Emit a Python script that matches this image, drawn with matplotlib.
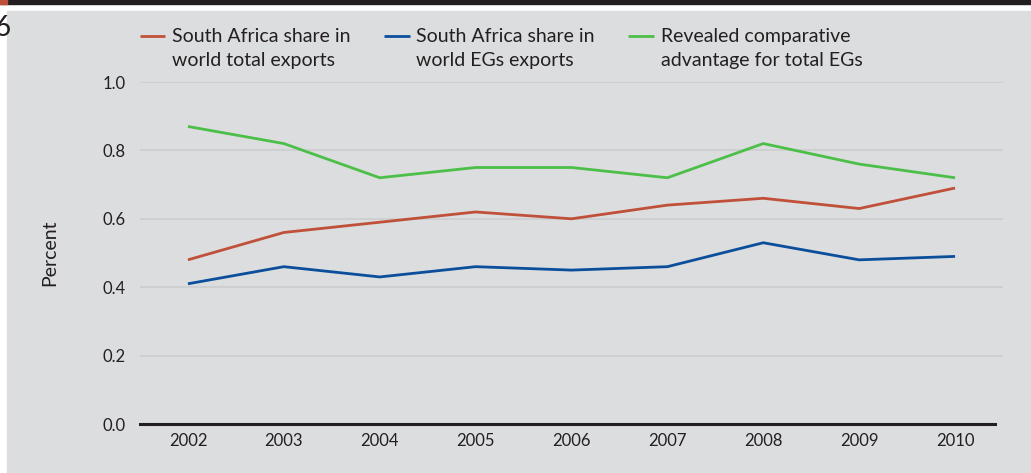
import matplotlib.pyplot as plt
from matplotlib.patches import Rectangle
from matplotlib.legend_handler import HandlerLine2D

plt.rcParams["font.family"] = ["Lato", "DejaVu Sans"]

years = [2002, 2003, 2004, 2005, 2006, 2007, 2008, 2009, 2010]
share_total = [0.48, 0.56, 0.59, 0.62, 0.60, 0.64, 0.66, 0.63, 0.69]
share_egs = [0.41, 0.46, 0.43, 0.46, 0.45, 0.46, 0.53, 0.48, 0.49]
rca_egs = [0.87, 0.82, 0.72, 0.75, 0.75, 0.72, 0.82, 0.76, 0.72]

labels = [
    "South Africa share in\nworld total exports",
    "South Africa share in\nworld EGs exports",
    "Revealed comparative\nadvantage for total EGs",
]
colors = ["#c0503a", "#0b4f9c", "#4cbf48"]
yticks = [0.0, 0.2, 0.4, 0.6, 0.8, 1.0]

BG = "#dcdddf"
TXT = "#231f20"


class FirstLineHandler(HandlerLine2D):
    """Legend line drawn level with the first row of a two-line label."""

    def create_artists(self, legend, orig_handle, xdescent, ydescent,
                       width, height, fontsize, trans):
        return super().create_artists(legend, orig_handle, xdescent,
                                      ydescent - 1.3 * fontsize, width, height,
                                      fontsize, trans)


W, H = 1031, 473
fig = plt.figure(figsize=(W / 100, H / 100), dpi=100, facecolor="white")

# grey panel, black rule across the top and the clipped figure number
fig.patches.append(Rectangle((7 / W, 0), 1 - 7 / W, 1 - 11 / H,
                             transform=fig.transFigure, color=BG, zorder=-2))
fig.patches.append(Rectangle((0, 1 - 4 / H), 1, 4 / H,
                             transform=fig.transFigure, color="#231f20", zorder=-1))
fig.patches.append(Rectangle((0, 1 - 4 / H), 7 / W, 4 / H,
                             transform=fig.transFigure, color="#c0503a", zorder=-1))
fig.text(-5 / W, 1 - 28 / H, "6", fontsize=20, color=TXT, ha="left", va="center")

ax = fig.add_axes([140 / W, 1 - 424 / H, (1003 - 140) / W, (424 - 82) / H])
ax.set_zorder(2)
ax.set_facecolor("none")

lines = []
for vals, c, lab in zip([share_total, share_egs, rca_egs], colors, labels):
    ln, = ax.plot(years, vals, color=c, lw=2.0, label=lab, solid_capstyle="butt")
    lines.append(ln)

ax.set_xlim(2001.5, 2010.5)
ax.set_ylim(0, 1.0)
ax.set_xticks(years)
ax.set_yticks(yticks)
ax.set_yticklabels([f"{v:.1f}" for v in yticks])
ax.tick_params(length=0, labelsize=12, colors=TXT)
ax.tick_params(axis="x", pad=6.5)
ax.tick_params(axis="y", pad=10)
for v in yticks[1:]:
    ax.axhline(v, color="#cdced0", lw=1.3, zorder=0)
ax.plot([2001.5, 2010.42], [0, 0], color=TXT, lw=2.2, clip_on=False, zorder=3)
for s in ax.spines.values():
    s.set_visible(False)

ax.set_ylabel("Percent", fontsize=14, color=TXT, labelpad=32)

leg = ax.legend(ncol=3, loc="upper left", bbox_to_anchor=(140 / W, 1 - 28 / H),
                bbox_transform=fig.transFigure, frameon=False, fontsize=14,
                handlelength=1.3, handletextpad=0.36, columnspacing=1.72,
                borderaxespad=0, borderpad=0, labelspacing=0.2,
                handler_map={ln: FirstLineHandler() for ln in lines})
for t in leg.get_texts():
    t.set_color(TXT)
    t.set_linespacing(1.5)

fig.savefig("out.png", dpi=100, facecolor="white")
